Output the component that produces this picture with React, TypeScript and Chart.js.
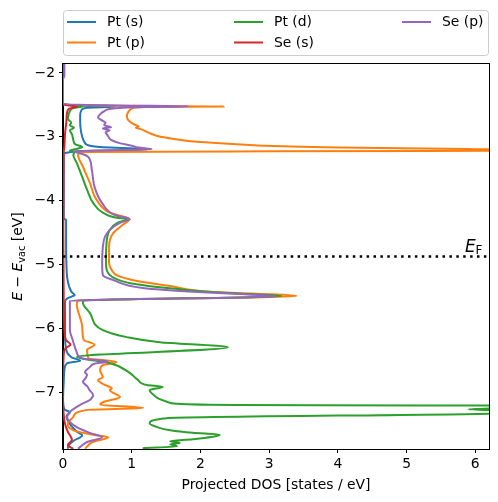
import React, { useEffect, useRef } from "react";
import { Chart, registerables } from "chart.js";

Chart.register(...registerables);

// [energy (eV), projected DOS (states/eV)]
const ptS: number[][] = [
  [-1.86, 0], [-2.49, 0], [-2.515, 0.3], [-2.53, 0.76], [-2.545, 0.35], [-2.58, 0.27], [-2.66, 0.25],
  [-2.78, 0.25], [-2.9, 0.26], [-3.0, 0.28], [-3.08, 0.31], [-3.14, 0.39], [-3.17, 0.68], [-3.195, 1.28],
  [-3.225, 0.3], [-3.25, 0.05], [-3.27, 0.01], [-4.28, 0.01], [-4.3, 0.045], [-4.6, 0.045], [-5.0, 0.05],
  [-5.2, 0.06], [-5.35, 0.09], [-5.44, 0.13], [-5.48, 0.17], [-5.53, 0.07], [-5.58, 0.03], [-5.8, 0.03],
  [-6.1, 0.03], [-6.35, 0.05], [-6.46, 0.13], [-6.51, 0.25], [-6.55, 0.06], [-6.65, 0.02], [-6.85, 0.01],
  [-7.15, 0.0], [-7.27, 0.02], [-7.32, 0.1], [-7.38, 0.05], [-7.5, 0.1], [-7.62, 0.2], [-7.68, 0.28],
  [-7.76, 0.16], [-7.84, 0.08], [-7.89, 0.07],
];

const ptP: number[][] = [
  [-1.86, 0], [-2.49, 0], [-2.51, 0.5], [-2.525, 2.34], [-2.535, 1.2], [-2.56, 1.0], [-2.61, 0.95],
  [-2.68, 0.93], [-2.74, 0.95], [-2.8, 1.02], [-2.84, 1.1], [-2.86, 1.06], [-2.88, 1.13], [-2.94, 1.25],
  [-3.0, 1.42], [-3.05, 1.72], [-3.08, 1.95], [-3.11, 2.4], [-3.14, 2.9], [-3.17, 4.0], [-3.195, 6.0],
  [-3.215, 8.0], [-3.228, 3.0],
  [-3.24, 0.3], [-3.285, 0.22], [-3.47, 0.29], [-3.72, 0.39], [-3.99, 0.49], [-4.19, 0.68], [-4.29, 0.97],
  [-4.38, 0.87], [-4.51, 0.73], [-4.73, 0.67], [-4.98, 0.67], [-5.09, 0.71], [-5.18, 0.8], [-5.26, 1.08],
  [-5.34, 1.56], [-5.43, 2.14], [-5.495, 3.4], [-5.57, 0.22], [-5.62, 0.2], [-5.98, 0.28], [-6.18, 0.3],
  [-6.26, 0.46], [-6.34, 0.35], [-6.47, 0.37], [-6.53, 0.78], [-6.58, 0.58], [-6.66, 0.54], [-6.77, 0.58],
  [-6.81, 0.51], [-6.89, 0.61], [-6.94, 0.71], [-6.97, 0.68], [-7.08, 0.83], [-7.16, 0.58], [-7.2, 0.54],
  [-7.25, 1.17], [-7.28, 0.35], [-7.39, 0.15], [-7.49, 0.07], [-7.6, 0.15], [-7.67, 0.44], [-7.71, 0.66],
  [-7.78, 0.44], [-7.89, 0.32],
];

const ptD: number[][] = [
  [-1.86, 0], [-2.49, 0], [-2.51, 0.2], [-2.525, 0.29], [-2.55, 0.15], [-2.6, 0.1], [-2.66, 0.08],
  [-2.72, 0.07], [-2.78, 0.12], [-2.82, 0.1], [-2.86, 0.16], [-2.9, 0.1], [-2.96, 0.13], [-3.05, 0.15],
  [-3.12, 0.18], [-3.16, 0.28], [-3.19, 0.2], [-3.215, 0.1], [-3.23, 0.14], [-3.26, 0.16], [-3.285, 0.15],
  [-3.41, 0.2], [-3.63, 0.28], [-3.83, 0.35], [-4.04, 0.44], [-4.19, 0.58], [-4.27, 0.78], [-4.29, 0.94],
  [-4.35, 0.79], [-4.46, 0.68], [-4.73, 0.63], [-4.98, 0.625], [-5.1, 0.64], [-5.2, 0.72], [-5.3, 1.0],
  [-5.4, 1.8], [-5.46, 2.6], [-5.495, 3.18], [-5.57, 0.3], [-5.6, 0.29], [-5.76, 0.39], [-6.03, 0.58],
  [-6.14, 0.93], [-6.22, 1.41], [-6.3, 2.4], [-6.45, 0.2], [-6.545, 0.68], [-6.7, 0.97], [-6.81, 1.09],
  [-6.89, 1.22], [-6.92, 1.45], [-6.97, 1.26], [-7.09, 1.37], [-7.17, 1.56], [-7.2, 2.14], [-7.22, 8.5],
  [-7.27, 5.9], [-7.3, 6.6], [-7.33, 6.5], [-7.41, 1.51], [-7.49, 1.26], [-7.55, 1.37], [-7.6, 1.56],
  [-7.64, 1.89], [-7.67, 2.28], [-7.74, 1.89], [-7.77, 1.56], [-7.8, 1.7], [-7.82, 1.56], [-7.85, 1.66],
  [-7.88, 1.16],
];

const seS: number[][] = [
  [-1.86, 0], [-2.49, 0], [-2.51, 0.1], [-2.525, 0.2], [-2.56, 0.09], [-2.62, 0.06], [-2.75, 0.05],
  [-2.95, 0.03], [-3.15, 0.02], [-3.25, 0.01], [-4.5, 0.005], [-5.5, 0.01], [-6.0, 0.02], [-6.18, 0.04],
  [-6.26, 0.11], [-6.31, 0.04], [-6.42, 0.01], [-7.0, 0.0], [-7.35, 0.01], [-7.5, 0.03], [-7.62, 0.07],
  [-7.75, 0.13], [-7.83, 0.07], [-7.89, 0.15],
];

const seP: number[][] = [
  [-1.86, 0.02], [-2.05, 0.02], [-2.1, 0], [-2.49, 0], [-2.51, 0.8], [-2.525, 1.83], [-2.535, 1.2],
  [-2.55, 0.8], [-2.6, 0.6], [-2.66, 0.53], [-2.7, 0.51], [-2.74, 0.56], [-2.78, 0.62], [-2.82, 0.6],
  [-2.85, 0.7], [-2.87, 0.58], [-2.9, 0.68], [-2.93, 0.62], [-2.98, 0.65], [-3.05, 0.7], [-3.1, 0.82],
  [-3.14, 1.0], [-3.17, 1.1], [-3.195, 1.29], [-3.225, 0.15], [-3.25, 0.22], [-3.29, 0.33], [-3.32, 0.37],
  [-3.52, 0.42], [-3.79, 0.46], [-4.04, 0.57], [-4.23, 0.76], [-4.29, 0.97], [-4.35, 0.83], [-4.46, 0.68],
  [-4.57, 0.61], [-4.73, 0.58], [-5.01, 0.57], [-5.17, 0.58], [-5.245, 0.73], [-5.37, 1.16], [-5.43, 1.89],
  [-5.465, 2.57], [-5.5, 3.11], [-5.57, 0.1], [-5.8, 0.1], [-6.03, 0.1], [-6.18, 0.14], [-6.38, 0.2],
  [-6.48, 0.3], [-6.52, 0.65], [-6.56, 0.45], [-6.61, 0.39], [-6.69, 0.32], [-6.73, 0.35], [-6.78, 0.33],
  [-6.84, 0.29], [-6.92, 0.36], [-6.96, 0.38], [-7.05, 0.44], [-7.09, 0.42], [-7.125, 0.39], [-7.2, 0.25],
  [-7.31, 0.1], [-7.39, 0.06], [-7.55, 0.2], [-7.64, 0.39], [-7.71, 0.57], [-7.78, 0.36], [-7.86, 0.25],
  [-7.89, 0.22],
];

const seriesLabels = ["Pt (s)", "Pt (p)", "Pt (d)", "Se (s)", "Se (p)"];
const seriesColors = ["#1f77b4", "#ff7f0e", "#2ca02c", "#d62728", "#9467bd"];
const seriesData = [ptS, ptP, ptD, seS, seP];

const fermiLevel = -4.875;
const xTicks = [0, 1, 2, 3, 4, 5, 6];
const yTicks = [-2, -3, -4, -5, -6, -7];
const xRange = [0, 6.2];
const yRange = [-7.893, -1.86];

const FONT = "'DejaVu Sans', sans-serif";
const FS = 13.9;

const decorPlugin = {
  id: "decor",
  afterDraw(chart: any) {
    const ctx = chart.ctx as CanvasRenderingContext2D;
    const a = chart.chartArea;
    ctx.save();
    // frame
    ctx.strokeStyle = "#000";
    ctx.lineWidth = 1;
    ctx.strokeRect(Math.round(a.left) - 0.5, Math.round(a.top) - 0.5, Math.round(a.right - a.left) + 1, Math.round(a.bottom - a.top) + 1);

    // E_F label
    const ys = chart.scales.y;
    const yF = ys.getPixelForValue(fermiLevel);
    ctx.fillStyle = "#000";
    ctx.textBaseline = "alphabetic";
    ctx.textAlign = "left";
    ctx.font = `italic 17px ${FONT}`;
    ctx.fillText("E", 465, yF - 4);
    ctx.font = `12px ${FONT}`;
    ctx.fillText("F", 475.5, yF - 2);

    // x title
    ctx.font = `${FS}px ${FONT}`;
    ctx.textAlign = "center";
    ctx.fillText("Projected DOS [states / eV]", (a.left + a.right) / 2, 489);

    // y title (rotated, mathtext-like)
    ctx.save();
    ctx.translate(22, (a.top + a.bottom) / 2);
    ctx.rotate(-Math.PI / 2);
    const segs = [
      { t: "E", f: `italic ${FS}px ${FONT}`, dy: 0 },
      { t: " \u2212 ", f: `${FS}px ${FONT}`, dy: 0 },
      { t: "E", f: `italic ${FS}px ${FONT}`, dy: 0 },
      { t: "vac", f: `${FS * 0.7}px ${FONT}`, dy: 3 },
      { t: " [eV]", f: `${FS}px ${FONT}`, dy: 0 },
    ];
    let total = 0;
    const widths = segs.map((s) => {
      ctx.font = s.f;
      const w = ctx.measureText(s.t).width;
      total += w;
      return w;
    });
    let x = -total / 2;
    ctx.textAlign = "left";
    segs.forEach((s, i) => {
      ctx.font = s.f;
      ctx.fillText(s.t, x, s.dy);
      x += widths[i];
    });
    ctx.restore();

    // legend
    const lx = 63.5, ly = 10.5, lw = 425, lh = 45, r = 3;
    ctx.beginPath();
    ctx.moveTo(lx + r, ly);
    ctx.lineTo(lx + lw - r, ly);
    ctx.quadraticCurveTo(lx + lw, ly, lx + lw, ly + r);
    ctx.lineTo(lx + lw, ly + lh - r);
    ctx.quadraticCurveTo(lx + lw, ly + lh, lx + lw - r, ly + lh);
    ctx.lineTo(lx + r, ly + lh);
    ctx.quadraticCurveTo(lx, ly + lh, lx, ly + lh - r);
    ctx.lineTo(lx, ly + r);
    ctx.quadraticCurveTo(lx, ly, lx + r, ly);
    ctx.closePath();
    ctx.fillStyle = "rgba(255,255,255,0.8)";
    ctx.fill();
    ctx.strokeStyle = "#cccccc";
    ctx.stroke();

    const colX = [67, 234, 402];
    const rowY = [22, 42.5];
    ctx.font = `${FS}px ${FONT}`;
    ctx.textBaseline = "middle";
    ctx.textAlign = "left";
    seriesLabels.forEach((lab, i) => {
      const c = Math.floor(i / 2);
      const rr = i % 2;
      const cx = colX[c], cy = rowY[rr];
      ctx.strokeStyle = seriesColors[i];
      ctx.lineWidth = 2;
      ctx.beginPath();
      ctx.moveTo(cx, cy);
      ctx.lineTo(cx + 29, cy);
      ctx.stroke();
      ctx.fillStyle = "#000";
      ctx.fillText(lab, cx + 40, cy + 0.5);
    });
    ctx.restore();
  },
};

export default function App() {
  const ref = useRef<HTMLCanvasElement | null>(null);
  useEffect(() => {
    document.body.style.margin = "0";
    const canvas = ref.current!;
    const datasets: any[] = seriesData.map((s, i) => ({
      label: seriesLabels[i],
      data: s.map((p) => ({ x: p[1], y: p[0] })),
      borderColor: seriesColors[i],
      backgroundColor: seriesColors[i],
      borderWidth: 2,
      pointRadius: 0,
      fill: false,
      cubicInterpolationMode: "monotone",
      clip: 0,
      order: seriesLabels.length - i,
    }));
    datasets.push({
      label: "EF",
      data: [
        { x: xRange[0], y: fermiLevel },
        { x: xRange[1], y: fermiLevel },
      ],
      borderColor: "#000",
      borderWidth: 2.5,
      borderDash: [2.5, 4.4],
      pointRadius: 0,
      fill: false,
      tension: 0,
      clip: 0,
      order: -1,
    });
    const tickFont = { family: FONT, size: FS };
    const chart = new Chart(canvas, {
      type: "line",
      data: { datasets },
      plugins: [decorPlugin],
      options: {
        indexAxis: "y",
        responsive: false,
        animation: false,
        devicePixelRatio: 1,
        layout: { padding: { top: 64, right: 9, left: 0, bottom: 0 } },
        plugins: { legend: { display: false }, tooltip: { enabled: false } },
        scales: {
          x: {
            type: "linear",
            min: xRange[0],
            max: xRange[1],
            afterBuildTicks: (s: any) => {
              s.ticks = xTicks.map((v) => ({ value: v }));
            },
            afterFit: (s: any) => {
              s.height = 53;
            },
            ticks: { font: tickFont, color: "#000", padding: 3, maxRotation: 0, autoSkip: false },
            grid: { display: true, drawOnChartArea: false, drawTicks: true, tickLength: 4, color: "#000" },
            border: { display: true, color: "#000" },
          },
          y: {
            type: "linear",
            min: yRange[0],
            max: yRange[1],
            afterBuildTicks: (s: any) => {
              s.ticks = yTicks.map((v) => ({ value: v }));
            },
            afterFit: (s: any) => {
              s.width = 63;
            },
            ticks: {
              font: tickFont,
              color: "#000",
              padding: 4,
              autoSkip: false,
              callback: (v: any) => (Number(v) < 0 ? "\u2212" + Math.abs(Number(v)) : String(v)),
            },
            grid: { display: true, drawOnChartArea: false, drawTicks: true, tickLength: 4, color: "#000" },
            border: { display: true, color: "#000" },
          },
        },
      } as any,
    });
    return () => chart.destroy();
  }, []);
  return (
    <div style={{ position: "absolute", left: 0, top: 0, width: 498, height: 502 }}>
      <canvas ref={ref} width={498} height={502} style={{ width: 498, height: 502 }} />
    </div>
  );
}
